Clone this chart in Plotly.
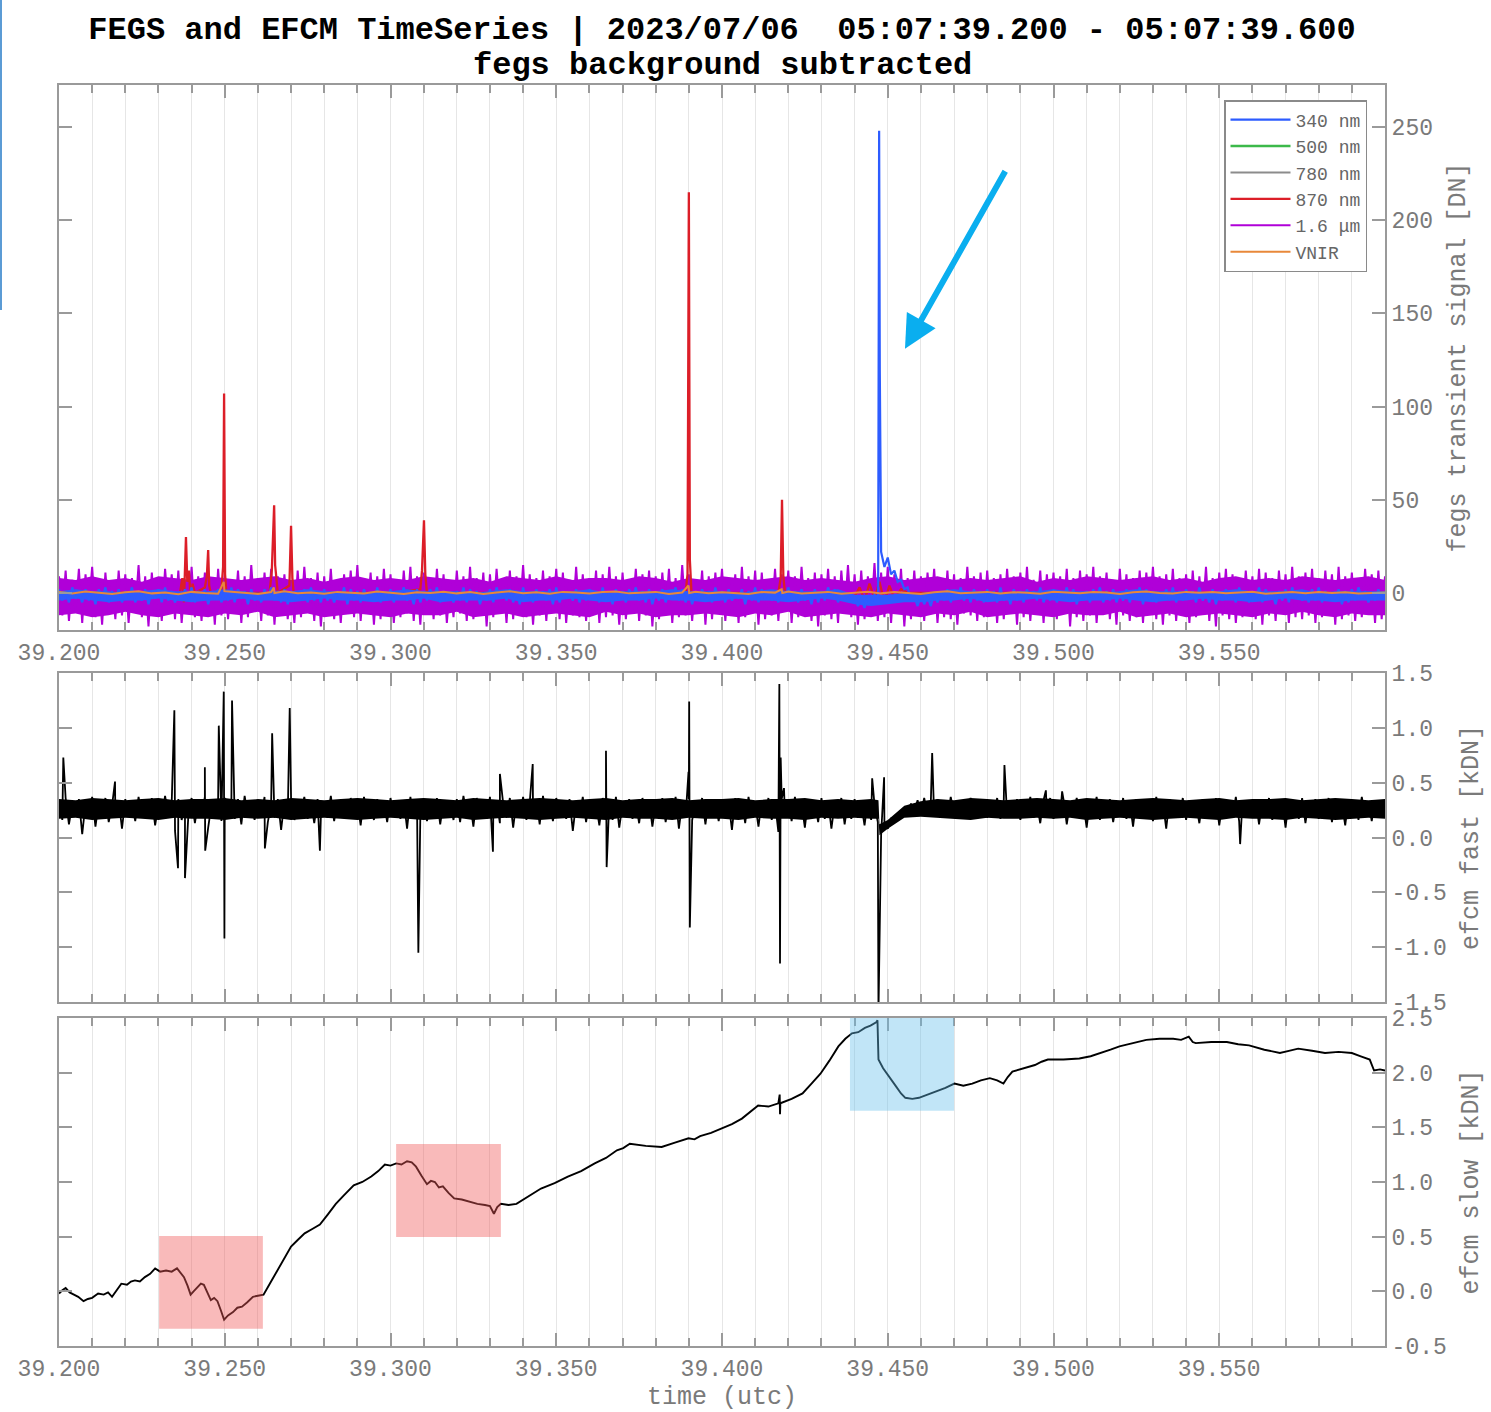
import numpy as np
import plotly.graph_objects as go

# ---------------- data ----------------
T_START, T_END = 39.200, 39.600
t_base = np.round(np.linspace(T_START, T_END, 401), 4)   # 1 ms sampling
t_env = np.round(np.linspace(T_START, T_END, 81), 3)     # 5 ms envelope grid

fegs_16um = [
 9,-12,12,-15,7,-10,13,-16,10,-9,14,-13,8,-17,11,-11,6,-14,12,-12,
 10,-16,8,-10,15,-13,9,-18,11,-12,7,-15,13,-9,10,-14,12,-16,6,-11,
 14,-13,9,-15,11,-10,8,-17,13,-12,10,-14,7,-11,12,-16,9,-13,15,-10,
 8,-15,11,-12,13,-17,9,-11,10,-14,6,-16,12,-13,14,-10,8,-15,11,-18,
 9,-12,13,-14,7,-16,10,-11,12,-13,15,-15,8,-10,11,-17,9,-14,13,-12,
 10,-16,7,-13,12,-11,14,-15,9,-17,11,-10,8,-14,13,-12,10,-16,6,-13,
 12,-11,9,-15,14,-14,8,-12,11,-18,10,-13,13,-10,7,-16,12,-14,9,-11,
 15,-13,10,-17,8,-12,12,-15,9,-10,13,-14,11,-16,7,-12,14,-13,10,-15,
 8,-11,12,-16,10,-13,14,-12,9,-17,11,-14,6,-10,13,-15,10,-12,12,-18,
 9,-14,11,-11,13,-16,8,-13,15,-12,10,-15,7,-11,12,-17,9,-14,11,-10,
 13,-15,8,-12,10,-16,14,-13,9,-11,12,-17,11,-14,7,-12,13,-15,10,-10,
 12,-16,9,-13,14,-11,8,-15,11,-18,10,-12,13,-14,9,-16,12,-11,15,-13,
 10,-17,12,-14,9,-12,16,-15,11,-13,14,-16,10,-11,13,-18,8,-14,12,-12,
 9,-15,11,-10,13,-16,7,-13,12,-14,10,-17,8,-11,14,-12,9,-15,11,-13,
 12,-12,8,-16,10,-14,13,-11,9,-17,11,-13,14,-15,7,-10,12,-16,10,-12,
 11,-14,9,-11,13,-18,8,-13,12,-15,10,-12,14,-16,9,-11,11,-14,7,-17,
 13,-12,10,-15,8,-13,12,-16,11,-10,14,-14,9,-17,10,-12,13,-15,8,-11,
 10,-16,12,-13,9,-11,14,-15,8,-18,11,-12,13,-14,10,-16,7,-13,12,-10,
 9,-14,13,-17,11,-12,8,-15,12,-11,10,-16,14,-13,9,-14,11,-12,13,-16,
 8,-13,12,-11,10,-17,14,-14,9,-12,11,-15,7,-13,13,-10,10,-16,12,-14,
 9]
# dense core of the 1.6 um noise band (upper / lower envelope)
fegs_16um_env_hi = [
 8,7,9,7,8,6,9,8,7,9,8,7,8,9,7,8,6,8,9,7,
 8,7,9,8,7,8,6,9,8,7,9,7,8,8,7,9,8,6,8,7,
 9,8,7,8,9,7,8,7,6,8,9,7,8,9,7,8,7,8,9,6,
 8,7,9,8,7,8,9,7,8,6,8,9,7,8,7,9,8,7,8,9,
 7]
fegs_16um_env_lo = [
 -12,-11,-13,-12,-10,-12,-13,-11,-12,-13,-11,-12,-10,-13,-12,-11,-13,-12,-11,-12,
 -13,-11,-12,-12,-10,-13,-12,-11,-13,-12,-11,-12,-13,-10,-12,-11,-13,-12,-12,-11,
 -12,-13,-11,-12,-10,-13,-12,-11,-12,-13,-11,-12,-13,-11,-12,-10,-13,-12,-11,-12,
 -13,-11,-12,-12,-10,-13,-12,-11,-13,-12,-11,-12,-13,-11,-12,-10,-12,-13,-11,-12,
 -12]

fegs_340 = [
 2,-4,1,-5,3,-3,0,-5,2,-4,1,-6,2,-3,3,-5,1,-4,2,-5,
 1,-3,3,-5,0,-4,2,-6,1,-3,2,-5,3,-4,1,-5,0,-4,2,-3,
 3,-5,1,-4,2,-6,0,-3,2,-5,1,-4,3,-5,2,-3,1,-6,2,-4,
 0,-5,2,-3,3,-4,1,-5,2,-6,1,-4,0,-3,2,-5,3,-4,1,-5,
 2,-4,0,-5,1,-3,3,-6,2,-4,1,-5,2,-3,0,-4,3,-5,1,-4,
 2,-5,1,-3,3,-4,0,-6,2,-5,1,-4,2,-3,3,-5,1,-4,0,-5,
 1,-4,3,-5,2,-3,1,-6,0,-4,2,-5,3,-3,1,-4,2,-5,1,-6,
 3,-4,0,-5,2,-3,1,-4,2,-6,3,-5,1,-3,0,-4,2,-5,1,-4,
 2,-3,1,-5,3,-4,0,-6,2,-4,1,-5,2,-3,3,-4,1,-5,2,-6,
 0,-4,2,-5,1,-3,3,-4,2,-5,1,-6,0,-4,2,-3,1,-5,3,-4,
 1,-5,2,-4,0,-3,2,-6,1,-4,3,-5,2,-3,1,-4,0,-5,2,-4,
 3,-3,1,-5,2,-4,0,-6,2,-5,1,-4,3,-3,2,-5,1,-4,0,-5,
 -2,-7,-3,-8,-2,-6,-1,-3,22,14,19,10,12,6,7,2,3,-4,-2,-7,
 -1,-6,-2,-7,0,-5,1,-4,2,-5,1,-3,3,-4,0,-5,2,-4,1,-5,
 2,-3,1,-5,3,-4,0,-6,2,-4,1,-5,2,-3,1,-4,3,-5,0,-4,
 2,-5,1,-3,3,-4,2,-6,0,-4,1,-5,2,-3,3,-5,1,-4,2,-5,
 0,-4,2,-5,1,-3,3,-6,2,-4,1,-5,0,-3,2,-4,3,-5,1,-4,
 2,-3,1,-5,3,-4,0,-5,2,-6,1,-4,2,-3,0,-5,3,-4,1,-5,
 1,-4,3,-5,2,-3,0,-6,1,-4,2,-5,3,-3,1,-4,0,-5,2,-4,
 3,-5,1,-4,0,-3,2,-6,1,-5,2,-4,3,-3,1,-5,0,-4,2,-3,
 1]
fegs_340_spike_t = [39.4471, 39.4474, 39.4476, 39.4479]
fegs_340_spike_v = [-2, 248, 120, 25]
fegs_340_env_hi = [
 1,2,1,1,0,1,2,1,1,1,2,1,0,1,1,2,1,1,0,1,
 1,2,1,1,1,0,1,2,1,1,1,1,2,0,1,1,1,2,1,1,
 1,0,1,2,1,1,1,2,-1,-1,-1,0,0,1,2,1,1,0,1,1,
 2,1,1,0,1,2,1,1,1,0,1,2,1,1,1,2,0,1,1,1,
 1]
fegs_340_env_lo = [
 -4,-3,-4,-5,-4,-4,-3,-4,-5,-4,-4,-3,-4,-4,-5,-4,-3,-4,-4,-5,
 -4,-4,-3,-5,-4,-4,-4,-3,-5,-4,-4,-3,-4,-5,-4,-4,-3,-4,-4,-5,
 -4,-3,-4,-4,-5,-4,-3,-4,-6,-7,-6,-5,-5,-4,-4,-3,-5,-4,-4,-3,
 -4,-5,-4,-4,-3,-4,-5,-4,-4,-3,-4,-4,-5,-4,-3,-4,-4,-5,-4,-4,
 -4]

# 870 nm channel: quiet baseline with isolated transients
fegs_870_t = [39.2000, 39.2200, 39.2365, 39.2372, 39.2377, 39.2383, 39.2387, 39.2392, 39.2397, 39.2403, 39.2410,
              39.2440, 39.2446, 39.2450, 39.2453, 39.2458,
              39.2490, 39.2495, 39.2498, 39.2501, 39.2505, 39.2550,
              39.2635, 39.2642, 39.2649, 39.2652, 39.2656, 39.2660,
              39.2695, 39.2700, 39.2704, 39.2708, 39.2800, 39.3000,
              39.3090, 39.3095, 39.3101, 39.3105, 39.3110, 39.3300, 39.3600,
              39.3890, 39.3896, 39.3900, 39.3903, 39.3908,
              39.4170, 39.4177, 39.4181, 39.4185, 39.4190, 39.4350,
              39.4400, 39.4415, 39.4430, 39.4445, 39.4460, 39.4475, 39.4490, 39.4505, 39.4520, 39.4540, 39.4560,
              39.4800, 39.5200, 39.5600, 39.6000]
fegs_870_v = [0, 0, 0, 8, -5, 30, 6, 12, -4, 5, 0,
              3, 9, 23, 4, 0,
              2, 14, 107, 10, 0, 0,
              0, 12, 47, 15, 5, 0,
              4, 36, 8, 0, 0, 0,
              2, 12, 39, 10, 0, 0, 0,
              0, 10, 215, 18, 0,
              0, 8, 50, 9, 0, 0,
              -2, 3, -4, 5, -3, 6, -5, 4, -3, 2, 0,
              0, 0, 0, 0]

t_coarse = np.round(np.linspace(T_START, T_END, 41), 3)    # 10 ms
fegs_500 = [0.4,-0.3,0.2,0.5,-0.1,0.3,-0.4,0.1,0.2,-0.2,0.4,0.0,-0.3,0.2,0.1,-0.1,0.3,-0.2,0.2,0.0,
            0.1,-0.3,0.4,0.2,-0.1,0.0,0.3,-0.2,0.1,0.2,-0.4,0.3,0.0,0.1,-0.2,0.2,0.3,-0.1,0.0,0.2,0.1]
fegs_780 = [-0.2,0.3,0.1,-0.4,0.2,0.0,0.3,-0.1,-0.3,0.2,0.1,0.4,-0.2,0.0,0.2,-0.3,0.1,0.3,-0.1,0.2,
            0.0,0.2,-0.2,0.1,0.3,-0.1,0.0,0.2,-0.3,0.1,0.2,0.0,-0.2,0.3,0.1,-0.1,0.2,0.0,0.1,-0.2,0.0]

t_vnir = np.round(np.linspace(T_START, T_END, 101), 3)     # 4 ms
fegs_vnir = [0.5,-0.3,0.8,0.1,-0.6,0.4,0.9,-0.2,0.3,-0.7,0.6,0.0,-0.4,0.7,0.2,-0.5,0.5,0.9,-0.1,0.3,
             -0.4,0.6,0.1,-0.3,0.8,0.2,-0.6,0.4,0.0,0.7,-0.2,0.5,-0.5,0.3,0.9,-0.1,0.4,-0.4,0.6,0.2,
             -0.3,0.5,0.8,-0.2,0.1,0.6,-0.5,0.3,0.7,-0.1,0.4,0.0,-0.6,0.5,0.2,0.8,-0.3,0.1,0.6,-0.4,
             0.3,0.7,-0.2,0.5,0.0,-0.5,0.4,0.9,-0.1,0.2,0.6,-0.3,0.4,0.1,-0.4,0.7,0.2,-0.2,0.5,0.3,
             -0.6,0.4,0.8,0.0,-0.3,0.6,0.1,0.5,-0.2,0.3,0.7,-0.4,0.2,0.5,-0.1,0.6,0.0,0.4,-0.3,0.2,0.3]
vnir_spike_t = [39.2497, 39.2499, 39.2648, 39.2650, 39.3899, 39.3901, 39.4180, 39.4182]
vnir_spike_v = [6, 1, 3, 0, 4, 0, 2, 0]

# EFCM fast (kDN)
efcm_fast = [
 0.33,0.16,0.36,0.12,0.30,0.19,0.35,0.03,0.31,0.17,0.37,0.10,0.32,0.20,0.36,0.14,0.29,0.18,0.34,0.08,
 0.35,0.19,0.31,0.15,0.37,0.21,0.33,0.17,0.36,0.11,0.30,0.18,0.38,0.20,0.32,0.06,0.35,0.16,0.31,0.19,
 0.36,0.13,0.33,0.18,0.37,0.09,0.30,0.19,0.34,0.15,0.36,0.20,0.31,0.17,0.35,0.12,0.38,0.19,0.32,0.16,
 0.34,0.20,0.37,0.14,0.31,0.18,0.35,0.07,0.33,0.19,0.36,0.16,0.30,0.21,0.37,0.17,0.33,0.13,0.35,0.20,
 0.32,0.18,0.38,0.15,0.34,0.21,0.31,0.17,0.36,0.19,0.33,0.11,0.37,0.20,0.30,0.16,0.35,0.18,0.32,0.14,
 0.36,0.19,0.31,0.17,0.34,0.08,0.37,0.18,0.32,0.20,0.35,0.15,0.30,0.17,0.36,0.12,0.33,0.19,0.31,0.16,
 0.35,0.14,0.38,0.21,0.33,0.10,0.36,0.19,0.32,0.17,0.37,0.20,0.34,0.13,0.31,0.18,0.36,0.09,0.33,0.19,
 0.37,0.16,0.32,0.20,0.35,0.12,0.38,0.18,0.31,0.15,0.36,0.21,0.33,0.17,0.35,0.06,0.32,0.19,0.37,0.14,
 0.34,0.18,0.31,0.11,0.36,0.20,0.33,0.16,0.37,0.09,0.30,0.19,0.35,0.17,0.32,0.13,0.36,0.20,0.34,0.10,
 0.31,0.17,0.36,0.14,0.33,0.19,0.37,0.08,0.32,0.18,0.35,0.16,0.30,0.20,0.36,0.12,0.34,0.18,0.31,0.15,
 0.35,0.19,0.32,0.07,0.36,0.17,0.33,0.13,0.37,0.20,0.31,0.10,0.34,0.18,0.36,0.16,0.32,0.05,0.35,0.19,
 0.33,0.15,0.37,0.18,0.31,0.09,0.35,0.20,0.32,0.14,0.36,0.17,0.34,0.08,0.31,0.19,0.36,0.12,0.33,0.17,
 0.35,0.18,0.31,0.11,0.34,0.16,0.30,0.14,0.02,0.12,0.08,0.17,0.14,0.21,0.19,0.26,0.22,0.31,0.24,0.34,
 0.22,0.36,0.20,0.33,0.19,0.35,0.21,0.32,0.18,0.37,0.22,0.31,0.17,0.34,0.20,0.36,0.19,0.33,0.21,0.35,
 0.18,0.32,0.20,0.36,0.17,0.34,0.21,0.31,0.19,0.35,0.16,0.33,0.20,0.37,0.18,0.31,0.13,0.34,0.20,0.36,
 0.17,0.33,0.19,0.35,0.12,0.32,0.20,0.36,0.18,0.31,0.09,0.34,0.19,0.37,0.16,0.33,0.20,0.35,0.14,0.32,
 0.19,0.36,0.17,0.33,0.10,0.35,0.20,0.31,0.18,0.34,0.15,0.37,0.19,0.32,0.08,0.35,0.18,0.33,0.20,0.36,
 0.16,0.34,0.19,0.31,0.13,0.35,0.20,0.33,0.17,0.36,0.11,0.32,0.19,0.34,0.18,0.37,0.15,0.33,0.20,0.31,
 0.18,0.35,0.12,0.33,0.19,0.36,0.16,0.32,0.20,0.34,0.09,0.35,0.18,0.31,0.17,0.36,0.13,0.33,0.19,0.35,
 0.17,0.32,0.20,0.36,0.14,0.34,0.19,0.31,0.11,0.35,0.18,0.33,0.16,0.37,0.20,0.32,0.15,0.34,0.19,0.30,
 0.27]
efcm_fast_spike_t = [39.2013, 39.2169, 39.2348, 39.2359, 39.2380, 39.2440, 39.2441, 39.2482,
                     39.2497, 39.2499, 39.2522, 39.2621, 39.2643, 39.2696, 39.2787, 39.3084,
                     39.3309, 39.3330, 39.3429, 39.3650, 39.3652, 39.3899, 39.3901, 39.3903,
                     39.4173, 39.4175, 39.4177, 39.4187, 39.4453, 39.4472, 39.4489, 39.4634,
                     39.4852, 39.4977, 39.5026, 39.5563]
efcm_fast_spike_v = [0.73, 0.51, 1.16, -0.28, -0.37, 0.64, -0.12, 1.02,
                     1.33, -0.92, 1.25, -0.10, 0.95, 1.18, -0.12, -1.05,
                     -0.13, 0.58, 0.67, 0.79, -0.27, 0.60, 1.24, -0.82,
                     1.40, -1.15, 0.73, 0.45, 0.54, -1.60, 0.55, 0.77,
                     0.66, 0.43, 0.42, -0.06]
# dense core of the fast-channel noise band
efcm_fast_env_hi = [
 0.35,0.34,0.36,0.35,0.34,0.35,0.36,0.34,0.35,0.35,0.36,0.34,0.35,0.34,0.36,0.35,0.34,0.35,0.36,0.35,
 0.34,0.35,0.36,0.35,0.34,0.36,0.35,0.34,0.35,0.36,0.35,0.34,0.35,0.36,0.34,0.35,0.35,0.36,0.34,0.35,
 0.35,0.36,0.34,0.35,0.35,0.36,0.34,0.35,0.34,0.35,0.16,0.29,0.33,0.35,0.34,0.36,0.35,0.34,0.35,0.36,
 0.35,0.34,0.36,0.35,0.34,0.35,0.36,0.35,0.34,0.35,0.36,0.34,0.35,0.35,0.36,0.34,0.35,0.36,0.35,0.34,
 0.35]
efcm_fast_env_lo = [
 0.17,0.18,0.16,0.17,0.18,0.17,0.16,0.18,0.17,0.17,0.16,0.18,0.17,0.18,0.16,0.17,0.18,0.17,0.16,0.17,
 0.18,0.17,0.16,0.17,0.18,0.16,0.17,0.18,0.17,0.16,0.17,0.18,0.17,0.16,0.18,0.17,0.17,0.16,0.18,0.17,
 0.17,0.16,0.18,0.17,0.17,0.16,0.18,0.17,0.18,0.17,0.08,0.18,0.19,0.18,0.17,0.16,0.18,0.17,0.17,0.18,
 0.17,0.18,0.16,0.17,0.18,0.17,0.16,0.17,0.18,0.17,0.16,0.18,0.17,0.17,0.16,0.18,0.17,0.16,0.17,0.18,
 0.17]
efcm_fast_env_extra_t = [39.4472, 39.4475]
efcm_fast_env_extra_hi = [0.34, 0.12]
efcm_fast_env_extra_lo = [0.17, 0.02]

# EFCM slow (kDN)
efcm_slow_t = [
 39.2000, 39.2010, 39.2020, 39.2032, 39.2045, 39.2058, 39.2074, 39.2087, 39.2100, 39.2118,
 39.2135, 39.2148, 39.2160, 39.2175, 39.2188, 39.2205, 39.2217, 39.2229, 39.2244, 39.2259,
 39.2275, 39.2290, 39.2305, 39.2323, 39.2340, 39.2356, 39.2367, 39.2377, 39.2388, 39.2397,
 39.2406, 39.2416, 39.2428, 39.2437, 39.2447, 39.2458, 39.2468, 39.2478, 39.2489, 39.2498,
 39.2510, 39.2525, 39.2538, 39.2552, 39.2568, 39.2585, 39.2600, 39.2617, 39.2638, 39.2660,
 39.2680, 39.2700, 39.2720, 39.2741, 39.2764, 39.2787, 39.2810, 39.2835, 39.2860, 39.2889,
 39.2915, 39.2942, 39.2963, 39.2983, 39.3000, 39.3017, 39.3033, 39.3050, 39.3064, 39.3077,
 39.3093, 39.3110, 39.3122, 39.3134, 39.3146, 39.3158, 39.3175, 39.3192, 39.3215, 39.3239,
 39.3262, 39.3285, 39.3300, 39.3312, 39.3322, 39.3333, 39.3356, 39.3380, 39.3417, 39.3454,
 39.3495, 39.3535, 39.3575, 39.3616, 39.3650, 39.3683, 39.3702, 39.3722, 39.3770, 39.3818,
 39.3858, 39.3899, 39.3917, 39.3934, 39.3967, 39.4000, 39.4030, 39.4060, 39.4085, 39.4109,
 39.4140, 39.4170, 39.4174, 39.4175, 39.4176, 39.4210, 39.4243, 39.4270, 39.4297, 39.4324,
 39.4351, 39.4372, 39.4392, 39.4411, 39.4431, 39.4448, 39.4465, 39.4469, 39.4472, 39.4486,
 39.4506, 39.4526, 39.4540, 39.4553, 39.4574, 39.4594, 39.4620, 39.4647, 39.4674, 39.4701,
 39.4728, 39.4755, 39.4781, 39.4808, 39.4830, 39.4849, 39.4862, 39.4876, 39.4910, 39.4944,
 39.4964, 39.4983, 39.5030, 39.5078, 39.5112, 39.5146, 39.5172, 39.5199, 39.5240, 39.5280,
 39.5320, 39.5361, 39.5385, 39.5408, 39.5420, 39.5429, 39.5476, 39.5523, 39.5557, 39.5590,
 39.5636, 39.5683, 39.5710, 39.5738, 39.5780, 39.5819, 39.5860, 39.5900, 39.5927, 39.5954,
 39.5967, 39.5985, 39.6000]
efcm_slow_v = [
 -0.02, 0.01, 0.03, -0.01, -0.03, -0.05, -0.09, -0.07, -0.06, -0.02,
 -0.03, -0.01, -0.05, 0.02, 0.07, 0.06, 0.09, 0.10, 0.09, 0.13,
 0.16, 0.21, 0.18, 0.19, 0.18, 0.21, 0.17, 0.13, 0.05, -0.03,
 0.00, 0.03, 0.07, 0.06, 0.00, -0.08, -0.06, -0.09, -0.18, -0.26,
 -0.22, -0.19, -0.15, -0.14, -0.10, -0.05, -0.04, -0.03, 0.08, 0.20,
 0.30, 0.41, 0.47, 0.53, 0.57, 0.61, 0.70, 0.80, 0.88, 0.97,
 1.00, 1.05, 1.10, 1.16, 1.15, 1.17, 1.16, 1.19, 1.18, 1.14,
 1.06, 0.98, 1.01, 1.00, 0.95, 0.96, 0.90, 0.85, 0.84, 0.82,
 0.80, 0.79, 0.78, 0.71, 0.77, 0.80, 0.79, 0.80, 0.87, 0.94,
 0.99, 1.05, 1.10, 1.17, 1.22, 1.29, 1.31, 1.35, 1.33, 1.32,
 1.36, 1.40, 1.39, 1.42, 1.45, 1.49, 1.53, 1.58, 1.64, 1.70,
 1.69, 1.72, 1.80, 1.62, 1.72, 1.76, 1.81, 1.90, 1.99, 2.11,
 2.24, 2.31, 2.36, 2.37, 2.41, 2.43, 2.46, 2.48, 2.12, 2.04,
 1.95, 1.87, 1.81, 1.77, 1.76, 1.77, 1.80, 1.83, 1.86, 1.90,
 1.88, 1.90, 1.93, 1.95, 1.93, 1.90, 1.96, 2.01, 2.04, 2.07,
 2.10, 2.12, 2.12, 2.13, 2.15, 2.18, 2.21, 2.24, 2.27, 2.30,
 2.31, 2.31, 2.30, 2.33, 2.28, 2.27, 2.28, 2.28, 2.26, 2.25,
 2.21, 2.18, 2.20, 2.22, 2.20, 2.18, 2.19, 2.18, 2.15, 2.12,
 2.02, 2.03, 2.02]

# highlighted intervals on the slow channel
hl_t0 = [39.2302, 39.3017, 39.4386]
hl_t1 = [39.2615, 39.3333, 39.4700]
hl_v0 = [-0.342, 0.497, 1.652]
hl_v1 = [0.506, 1.348, 2.5]
hl_col = ["rgba(240,90,90,0.42)", "rgba(240,90,90,0.42)", "rgba(100,190,235,0.40)"]

# arrow pointing at the 340 nm transient (tail -> tip, data coords)
arrow_tail = (39.4857, 227)
arrow_tip = (39.4552, 131)

major_ticks = [39.20, 39.25, 39.30, 39.35, 39.40, 39.45, 39.50, 39.55]
major_labels = ["39.200", "39.250", "39.300", "39.350", "39.400", "39.450", "39.500", "39.550"]
y1_ticks = [0, 50, 100, 150, 200, 250]
y2_ticks = [-1.5, -1.0, -0.5, 0.0, 0.5, 1.0, 1.5]
y3_ticks = [-0.5, 0.0, 0.5, 1.0, 1.5, 2.0, 2.5]


def merged(tb, vb, ts, vs):
    t = np.concatenate([np.asarray(tb, float), np.asarray(ts, float)])
    v = np.concatenate([np.asarray(vb, float), np.asarray(vs, float)])
    o = np.argsort(t, kind="stable")
    return t[o], v[o]


def band(t, hi, lo):
    t = np.asarray(t, float)
    return np.concatenate([t, t[::-1]]), np.concatenate([np.asarray(hi, float), np.asarray(lo, float)[::-1]])


def lbl(v):
    return "%.1f" % v

# ---------------- figure ----------------
MONO = "Liberation Mono, Courier New, monospace"
GRAY_TXT = "#7a7a7a"
AX = "#9a9a9a"
GRID = "#e6e6e6"
C_340, C_500, C_780, C_870, C_16, C_VNIR = "#2d5cff", "#3cb94a", "#8c8c8c", "#dc1e28", "#b000d8", "#e8883a"

fig = go.Figure()

fig.add_trace(go.Scatter(x=t_coarse, y=fegs_500, mode="lines", name="500 nm",
                         line=dict(color=C_500, width=2.5), legendrank=2, xaxis="x", yaxis="y"))
fig.add_trace(go.Scatter(x=t_coarse, y=fegs_780, mode="lines", name="780 nm",
                         line=dict(color=C_780, width=2), legendrank=3, xaxis="x", yaxis="y"))
mx, my = band(t_env, fegs_16um_env_hi, fegs_16um_env_lo)
fig.add_trace(go.Scatter(x=mx, y=my, mode="lines", fill="toself", fillcolor=C_16, line=dict(width=0),
                         showlegend=False, hoverinfo="skip", xaxis="x", yaxis="y"))
fig.add_trace(go.Scatter(x=t_base, y=fegs_16um, mode="lines", name="1.6 μm",
                         line=dict(color=C_16, width=2.0), legendrank=5, xaxis="x", yaxis="y"))
fig.add_trace(go.Scatter(x=fegs_870_t, y=fegs_870_v, mode="lines", name="870 nm",
                         line=dict(color=C_870, width=2.3), legendrank=4, xaxis="x", yaxis="y"))
cx, cy = band(t_env, fegs_340_env_hi, fegs_340_env_lo)
fig.add_trace(go.Scatter(x=cx, y=cy, mode="lines", fill="toself", fillcolor=C_340, line=dict(width=0),
                         showlegend=False, hoverinfo="skip", xaxis="x", yaxis="y"))
bt, bv = merged(t_base, fegs_340, fegs_340_spike_t, fegs_340_spike_v)
fig.add_trace(go.Scatter(x=bt, y=bv, mode="lines", name="340 nm",
                         line=dict(color=C_340, width=2.2), legendrank=1, xaxis="x", yaxis="y"))
ot, ov = merged(t_vnir, fegs_vnir, vnir_spike_t, vnir_spike_v)
fig.add_trace(go.Scatter(x=ot, y=ov, mode="lines", name="VNIR",
                         line=dict(color=C_VNIR, width=2), legendrank=6, xaxis="x", yaxis="y"))

et, ehi = merged(t_env, efcm_fast_env_hi, efcm_fast_env_extra_t, efcm_fast_env_extra_hi)
_, elo = merged(t_env, efcm_fast_env_lo, efcm_fast_env_extra_t, efcm_fast_env_extra_lo)
fx, fy = band(et, ehi, elo)
fig.add_trace(go.Scatter(x=fx, y=fy, mode="lines", fill="toself", fillcolor="black", line=dict(width=0),
                         showlegend=False, hoverinfo="skip", xaxis="x2", yaxis="y2"))
ft, fv = merged(t_base, efcm_fast, efcm_fast_spike_t, efcm_fast_spike_v)
fig.add_trace(go.Scatter(x=ft, y=fv, mode="lines", showlegend=False,
                         line=dict(color="black", width=1.8), xaxis="x2", yaxis="y2"))
fig.add_trace(go.Scatter(x=efcm_slow_t, y=efcm_slow_v, mode="lines", showlegend=False,
                         line=dict(color="black", width=1.9), xaxis="x3", yaxis="y3"))

W, H = 1491, 1412
L, R, T, B = 59, 106, 85, 66
PH = H - T - B


def dom(top_px, bot_px):
    return [(H - B - bot_px) / PH, (H - B - top_px) / PH]

xcommon = dict(range=[T_START, T_END], tickmode="array", tickvals=major_ticks, ticktext=major_labels,
               ticks="inside", ticklen=13, tickwidth=1.5, tickcolor=AX, mirror="ticks",
               showline=True, linecolor=AX, linewidth=2, showgrid=True, gridcolor=GRID, gridwidth=1,
               zeroline=False, automargin=False,
               minor=dict(tickmode="linear", tick0=T_START, dtick=0.01, ticks="inside", ticklen=8,
                          tickcolor=AX, showgrid=True, gridcolor=GRID, gridwidth=1),
               tickfont=dict(family=MONO, size=23, color=GRAY_TXT))

ycommon = dict(side="right", ticks="inside", ticklen=13, tickwidth=1.5, tickcolor=AX, mirror="ticks",
               showline=True, linecolor=AX, linewidth=2, showgrid=False, zeroline=False, automargin=False,
               tickfont=dict(family=MONO, size=23, color=GRAY_TXT))

title_font = dict(family=MONO, size=25, color=GRAY_TXT)

fig.update_layout(
    width=W, height=H,
    margin=dict(l=L, r=R, t=T, b=B),
    paper_bgcolor="white", plot_bgcolor="white",
    font=dict(family=MONO, color=GRAY_TXT),
    title=dict(text="<b>FEGS and EFCM TimeSeries | 2023/07/06\u00a0\u00a005:07:39.200 - 05:07:39.600</b>",
               x=0.5, xref="paper", xanchor="center", y=1 - 28 / H, yref="container", yanchor="middle",
               font=dict(family=MONO, size=32, color="black")),
    xaxis=dict(xcommon, domain=[0, 1], anchor="y", showticklabels=True),
    xaxis2=dict(xcommon, domain=[0, 1], anchor="y2", showticklabels=False, matches="x"),
    xaxis3=dict(xcommon, domain=[0, 1], anchor="y3", showticklabels=True, matches="x",
                title=dict(text="time (utc)", font=title_font, standoff=4)),
    yaxis=dict(ycommon, domain=dom(85, 630), range=[-19.85, 272.5], tickmode="array",
               tickvals=y1_ticks, ticktext=[str(v) for v in y1_ticks],
               title=dict(text="fegs transient signal [DN]", font=title_font)),
    yaxis2=dict(ycommon, domain=dom(673, 1002), range=[-1.5, 1.5], tickmode="array",
                tickvals=y2_ticks, ticktext=[lbl(v) for v in y2_ticks],
                title=dict(text="efcm fast [kDN]", font=title_font)),
    yaxis3=dict(ycommon, domain=dom(1018, 1346), range=[-0.5, 2.5], tickmode="array",
                tickvals=y3_ticks, ticktext=[lbl(v) for v in y3_ticks],
                title=dict(text="efcm slow [kDN]", font=title_font)),
    legend=dict(x=(1367 - L) / (W - L - R), xanchor="right", y=1 - (100 - T) / PH, yanchor="top",
                bgcolor="white", bordercolor="#8a8a8a", borderwidth=1.5,
                font=dict(family=MONO, size=18, color="#666666"), tracegroupgap=0, itemwidth=60),
    showlegend=True,
)

fig.add_annotation(text="<b>fegs background subtracted</b>", xref="paper", yref="paper",
                   x=0.5, y=(H - B - 65) / PH, xanchor="center", yanchor="middle", showarrow=False,
                   font=dict(family=MONO, size=32, color="black"))

for a, b_, c, d, col in zip(hl_t0, hl_t1, hl_v0, hl_v1, hl_col):
    fig.add_shape(type="rect", xref="x3", yref="y3", x0=a, x1=b_, y0=c, y1=d,
                  fillcolor=col, line=dict(width=0), layer="above")

fig.add_annotation(x=arrow_tip[0], y=arrow_tip[1], ax=arrow_tail[0], ay=arrow_tail[1],
                   xref="x", yref="y", axref="x", ayref="y", text="", showarrow=True,
                   arrowhead=2, arrowsize=1.1, arrowwidth=6, arrowcolor="#0aaeef")

fig.add_shape(type="line", xref="paper", yref="paper",
              x0=(1 - L) / (W - L - R), x1=(1 - L) / (W - L - R),
              y0=(H - B - 0) / PH, y1=(H - B - 310) / PH,
              line=dict(color="#5b9bd5", width=2))

fig.write_html("out.html", config={"displayModeBar": False},
               post_script="document.body.style.margin='0px';")
